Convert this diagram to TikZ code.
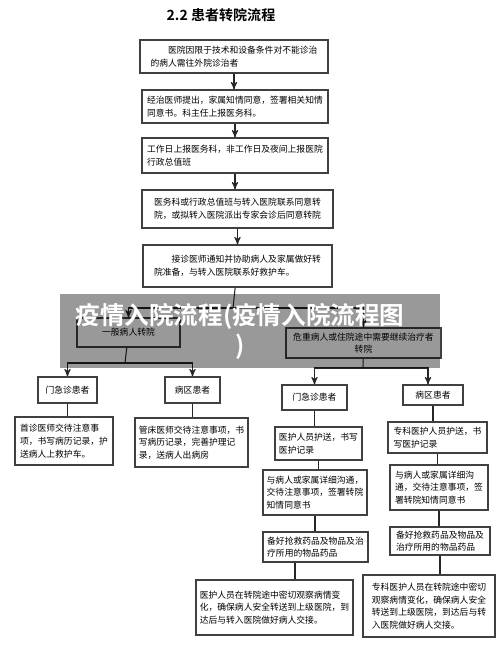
\documentclass[tikz,border=0pt]{standalone}
\usepackage{fontspec}
\setmainfont{Noto Sans CJK SC}[BoldFont={Noto Sans CJK SC Bold}]
\usetikzlibrary{arrows,positioning}

\begin{document}
\begin{tikzpicture}[x=0.02cm,y=-0.02cm,>=stealth',line width=0.6pt,
  box/.style={draw=black!75,fill=white,align=left,inner sep=1pt,font=\fontsize{5}{7.2}\selectfont},
  flow/.style={->,draw=black!85}]
  \tikzstyle{link} = [draw=black!85]
%  pixel grid of the page, y going down
  \useasboundingbox (0,0) rectangle (500,663);

  \node[font=\bfseries\fontsize{8}{10}\selectfont] (TITLE) at (221,15) {2.2 患者转院流程};

  \node[box,minimum width=3.76cm,minimum height=0.66cm] (REQUEST) at (234,56.5)
    {\hspace*{2em}医院因限于技术和设备条件对不能诊治\\的病人需往外院诊治者};
  \node[box,minimum width=3.72cm,minimum height=0.66cm] (CONSENT) at (235,106.5)
    {经治医师提出，家属知情同意，签署相关知情\\同意书。科主任上报医务科。};
  \node[box,minimum width=3.72cm,minimum height=0.70cm] (REPORT) at (235,155.5)
    {工作日上报医务科，非工作日及夜间上报医院\\行政总值班};
  \node[box,minimum width=3.82cm,minimum height=0.76cm] (CONTACT) at (237.5,209)
    {医务科或行政总值班与转入医院联系同意转\\院，或拟转入医院派出专家会诊后同意转院};
  \node[box,minimum width=3.78cm,minimum height=0.84cm] (PREP) at (237.5,266)
    {\hspace*{2em}接诊医师通知并协助病人及家属做好转\\院准备，与转入医院联系好救护车。};

  \coordinate (SPLIT) at (233,308);
  \node[box,align=center,minimum width=2.06cm,minimum height=0.58cm] (GENERAL) at (128.5,332.5) {一般病人转院};
  \node[box,align=center,minimum width=3.10cm,minimum height=0.60cm] (CRITICAL) at (363.5,343)
    {危重病人或住院途中需要继续治疗者\\转院};

  % general transfer
  \coordinate (GSPLIT) at (125,363);
  \node[box,minimum width=1.18cm,minimum height=0.52cm] (GOPD) at (67.5,390) {门急诊患者};
  \node[box,minimum width=1.10cm,minimum height=0.52cm] (GWARD) at (192.5,390) {病区患者};
  \node[box,minimum width=1.96cm,minimum height=0.96cm] (GNOTE) at (64,441)
    {首诊医师交待注意事\\项，书写病历记录，护\\送病人上救护车。};
  \node[box,minimum width=2.26cm,minimum height=0.98cm] (WNOTE) at (191.5,442.5)
    {管床医师交待注意事项，书\\写病历记录，完善护理记\\录，送病人出病房};

  % critical transfer
  \coordinate (CSPLIT) at (363,368);
  \node[box,minimum width=1.30cm,minimum height=0.50cm] (COPD) at (314.5,397.5) {门急诊患者};
  \node[box,minimum width=1.20cm,minimum height=0.40cm] (CWARD) at (433,395) {病区患者};
  \node[box,minimum width=1.74cm,minimum height=0.66cm] (CESCORT) at (318.5,443.5)
    {医护人员护送，书写\\医护记录};
  \node[box,minimum width=1.98cm,minimum height=0.62cm] (WESCORT) at (437.5,437.5)
    {专科医护人员护送，书\\写医护记录};
  \node[box,minimum width=2.08cm,minimum height=0.90cm] (CTALK) at (315,492.5)
    {与病人或家属详细沟通，\\交待注意事项，签署转院\\知情同意书};
  \node[box,minimum width=1.96cm,minimum height=0.90cm] (WTALK) at (439,487.5)
    {与病人或家属详细沟\\通，交待注意事项，签\\署转院知情同意书};
  \node[box,minimum width=2.10cm,minimum height=0.60cm] (CDRUG) at (315.5,547)
    {备好抢救药品及物品及治\\疗所用的物品药品};
  \node[box,minimum width=2.00cm,minimum height=0.56cm] (WDRUG) at (440,541)
    {备好抢救药品及物品及\\治疗所用的物品药品};
  \node[box,minimum width=3.14cm,minimum height=1.10cm] (CTRANSIT) at (274.5,607.5)
    {医护人员在转院途中密切观察病情变\\化，确保病人安全转送到上级医院，到\\达后与转入医院做好病人交接。};
  \node[box,minimum width=2.64cm,minimum height=1.24cm] (WTRANSIT) at (429,606)
    {专科医护人员在转院途中密切\\观察病情变化，确保病人安全\\转送到上级医院，到达后与转\\入医院做好病人交接。};

  \draw[flow] (REQUEST) -- (REQUEST |- CONSENT.north);
  \draw[flow] (CONSENT) -- (CONSENT |- REPORT.north);
  \draw[flow] (REPORT) -- (REPORT |- CONTACT.north);
  \draw[flow] (CONTACT) -- (CONTACT |- PREP.north);
  \draw[link] (PREP) -- (SPLIT);
  \draw[flow] (SPLIT) -| (GENERAL);
  \draw[flow] (SPLIT) -| (CRITICAL);

  \draw[link] (GENERAL) -- (GSPLIT);
  \draw[flow] (GSPLIT) -| (GOPD);
  \draw[flow] (GSPLIT) -| (GWARD);
  \draw[link] (GOPD) -- (GOPD |- GNOTE.north);
  \draw[link] (GWARD) -- (GWARD |- WNOTE.north);

  \draw[link] (CRITICAL) -- (CSPLIT);
  \draw[flow] (CSPLIT) -| (COPD);
  \draw[flow] (CSPLIT) -| ([xshift=-0.1cm]CWARD.north);
  \draw[link] (COPD) -- (COPD |- CESCORT.north);
  \draw[link] (CESCORT) -- (CESCORT |- CTALK.north);
  \draw[link] (CTALK) -- (CTALK |- CDRUG.north);
  \draw[link] ([xshift=-0.41cm]CDRUG.south) -- ([xshift=-0.41cm]CDRUG.south |- CTRANSIT.north);
  \draw[link] (CWARD) -- (CWARD |- WESCORT.north);
  \draw[link] (WESCORT) -- (WESCORT |- WTALK.north);
  \draw[link] (WTALK) -- (WTALK |- WDRUG.north);
  \draw[link] (WDRUG) -- (WDRUG |- WTRANSIT.north);

  \fill[black,opacity=0.4] (60,294) rectangle (440,368);
  \node[text=white,align=center,font=\bfseries\fontsize{14}{17}\selectfont] (BANNER) at (240,331)
    {疫情入院流程(疫情入院流程图\\)};

\end{tikzpicture}
\end{document}
